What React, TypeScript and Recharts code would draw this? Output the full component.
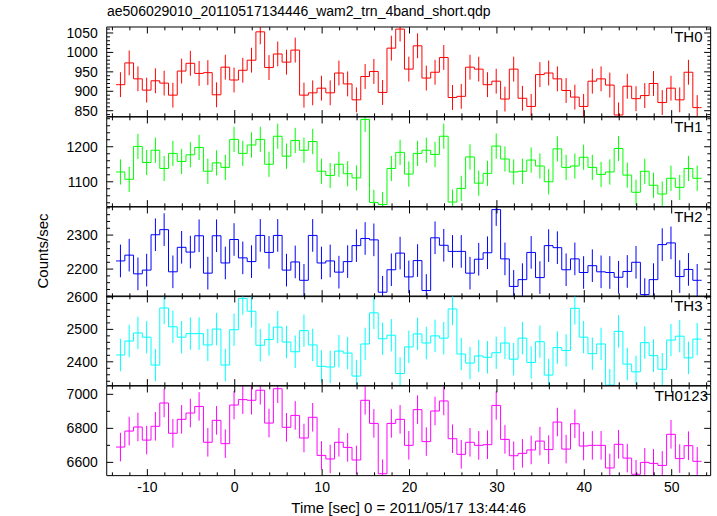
import { ComposedChart, Line, XAxis, YAxis, ErrorBar } from 'recharts'

// light curve: 1 s bins, first bin centre (sec from 2011/05/17 13:44:46)
const T0 = -13.08
const BIN = 1
const TIME_DOMAIN: [number, number] = [-14.65, 54.46]
const TIME_LABELS = [-10, 0, 10, 20, 30, 40, 50]

const th0 = [917, 973, 932, 903, 927, 921, 890, 952, 972, 946, 948, 891, 962, 929, 954, 980, 1053, 961, 996, 975, 1006, 890,
  896, 908, 896, 947, 919, 878, 938, 951, 897, 1011, 1060, 957, 1017, 934, 949, 987, 884, 887, 962, 957, 917, 926,
  880, 957, 882, 861, 943, 947, 932, 902, 885, 861, 926, 932, 916, 839, 913, 881, 889, 920, 871, 908, 878, 949, 858]
const th1 = [1128, 1107, 1201, 1155, 1190, 1138, 1181, 1158, 1177, 1198, 1130, 1154, 1141, 1221, 1181, 1205, 1221, 1150, 1230, 1173, 1218, 1190,
  1215, 1130, 1118, 1150, 1123, 1111, 1278, 1041, 1035, 1138, 1184, 1122, 1181, 1190, 1178, 1230, 1042, 1081, 1171, 1096, 1124, 1202,
  1165, 1128, 1130, 1162, 1145, 1100, 1194, 1141, 1145, 1170, 1141, 1121, 1128, 1195, 1119, 1070, 1130, 1090, 1065, 1110, 1084, 1138, 1110]
const th2 = [2224, 2241, 2186, 2197, 2301, 2316, 2192, 2264, 2250, 2298, 2188, 2298, 2218, 2287, 2233, 2222, 2299, 2249, 2299, 2197, 2221, 2167,
  2299, 2218, 2224, 2191, 2222, 2269, 2290, 2286, 2132, 2198, 2247, 2177,
  2225, 2137, 2292, 2270, 2252, 2252, 2188, 2229, 2248, 2375, 2230, 2149, 2169, 2249, 2175, 2269, 2263, 2198, 2230, 2190, 2210, 2192,
  2190, 2176, 2193, 2220, 2125, 2169, 2272, 2277, 2178, 2199, 2167]
const th3 = [2421, 2464, 2489, 2476, 2390, 2566, 2508, 2476, 2487, 2487, 2452, 2501, 2390, 2499, 2595, 2556, 2451, 2469, 2507, 2461, 2431, 2496,
  2452, 2386, 2384, 2433, 2427, 2356, 2455, 2551, 2471, 2482, 2364, 2446,
  2486, 2458, 2480, 2473, 2563, 2424, 2396, 2418, 2414, 2428, 2458, 2408, 2473, 2398, 2462, 2359, 2444, 2435, 2565, 2476, 2425, 2455,
  2328, 2494, 2393, 2369, 2459, 2419, 2377, 2467, 2479, 2412, 2470]
const th0123 = [6690, 6784, 6808, 6731, 6812, 6949, 6771, 6853, 6890, 6929, 6718, 6847, 6710, 6937, 6969, 6965, 7024, 6831, 7033, 6806, 6876, 6743,
  6865, 6641, 6620, 6718, 6688, 6614, 6965, 6829, 6533, 6829, 6853, 6700,
  6910, 6722, 6902, 6961, 6739, 6647, 6718, 6700, 6704, 6935, 6735, 6639, 6653, 6673, 6725, 6675, 6837, 6678, 6827, 6696, 6700, 6700,
  6567, 6706, 6625, 6530, 6600, 6594, 6582, 6765, 6622, 6698, 6606]

// 1-sigma errors (roughly constant within each band)
const th0Err = 32
const th1Err = 36
const th2Err = 48
const th3Err = 50
const th0123Err = 84

const th0Labels = [850, 900, 950, 1000, 1050]
const th1Labels = [1100, 1200]
const th2Labels = [2200, 2300]
const th3Labels = [2400, 2500, 2600]
const th0123Labels = [6600, 6800, 7000]

const panels = [
  { name: 'TH0', values: th0, err: th0Err, color: '#ff0000', domain: [834.8, 1065.4], labels: th0Labels, minor: 10, nameX: 702.5 },
  { name: 'TH1', values: th1, err: th1Err, color: '#00ff00', domain: [1029, 1285], labels: th1Labels, minor: 20, nameX: 702.5 },
  { name: 'TH2', values: th2, err: th2Err, color: '#0000ff', domain: [2119, 2382.6], labels: th2Labels, minor: 20, nameX: 702.5 },
  { name: 'TH3', values: th3, err: th3Err, color: '#00ffff', domain: [2326.5, 2603], labels: th3Labels, minor: 20, nameX: 702.5 },
  { name: 'TH0123', values: th0123, err: th0123Err, color: '#ff00ff', domain: [6522, 7049], labels: th0123Labels, minor: 100, nameX: 708 },
]

const W = 717
const PLOT_LEFT = 106.7
const PLOT_RIGHT = 710.7
const TOP0 = 27.3
const PANEL_H = 89.64
const PAD = 12
const FONT = '"Liberation Sans", Arial, Helvetica, sans-serif'

// error bars are cut at the panel frame, like the step line
function binRows(values: number[], err: number, domain: [number, number]) {
  const pts = values.map((y, i) => ({
    t: T0 + i * BIN,
    y,
    err: [Math.max(0, Math.min(err, y - domain[0])), Math.max(0, Math.min(err, domain[1] - y))],
  }))
  return [
    { t: T0 - BIN / 2, y: values[0], err: [0, 0] },
    ...pts,
    { t: T0 + (values.length - 0.5) * BIN, y: values[values.length - 1], err: [0, 0] },
  ]
}

function tickList(lo: number, hi: number, step: number) {
  const out: number[] = []
  for (let v = Math.ceil(lo / step) * step; v <= hi; v += step) out.push(Math.round(v * 1000) / 1000)
  return out
}

function makeTick(side: string, majors: number[], showLabel: boolean) {
  return (p: any) => {
    const v = p.payload.value
    const big = majors.includes(v)
    const len = big ? 6.5 : 3.3
    const x = p.x
    const y = p.y
    let line = null
    let label = null
    if (side === 'left') {
      line = <line x1={x} y1={y} x2={x + len} y2={y} />
      if (showLabel && big) label = <text x={x - 9} y={y} dy="0.36em" textAnchor="end">{v}</text>
    } else if (side === 'right') {
      line = <line x1={x} y1={y} x2={x - len} y2={y} />
    } else if (side === 'top') {
      line = <line x1={x} y1={y} x2={x} y2={y + len} />
    } else {
      line = <line x1={x} y1={y} x2={x} y2={y - len} />
      if (showLabel && big) label = <text x={x} y={y + 16.5} textAnchor="middle">{v}</text>
    }
    return (
      <g>
        <g stroke="#000" strokeWidth={1}>{line}</g>
        {label && <g fill="#000" fontSize={14} fontFamily={FONT}>{label}</g>}
      </g>
    )
  }
}

function Panel({ p, index, last }: { p: (typeof panels)[number]; index: number; last: boolean }) {
  const domain = p.domain as [number, number]
  const data = binRows(p.values, p.err, domain)
  const yTicks = tickList(domain[0], domain[1], p.minor)
  const xTicks = tickList(TIME_DOMAIN[0], TIME_DOMAIN[1], 2)
  const bottomPad = last ? 45 : PAD
  const h = PANEL_H + PAD + bottomPad
  const axisLine = { stroke: '#000', strokeWidth: 1 }
  // axes need a non-zero size to be drawn; 1px each, taken out of the margins
  return (
    <div style={{ position: 'absolute', left: 0, top: TOP0 + index * PANEL_H - PAD }}>
      <ComposedChart width={W} height={h} data={data}
        margin={{ top: PAD - 1, bottom: bottomPad - 1, left: PLOT_LEFT - 1, right: W - PLOT_RIGHT - 1 }}>
        <XAxis xAxisId="b" dataKey="t" type="number" domain={TIME_DOMAIN} allowDataOverflow ticks={xTicks} interval={0}
          height={1} tickSize={0} tickMargin={0} tickLine={false} axisLine={axisLine}
          tick={makeTick('bottom', TIME_LABELS, last)} />
        <XAxis xAxisId="t" orientation="top" dataKey="t" type="number" domain={TIME_DOMAIN} allowDataOverflow ticks={xTicks} interval={0}
          height={1} tickSize={0} tickMargin={0} tickLine={false} axisLine={axisLine}
          tick={makeTick('top', TIME_LABELS, false)} />
        <YAxis yAxisId="l" type="number" domain={domain} allowDataOverflow ticks={yTicks} interval={0}
          width={1} tickSize={0} tickMargin={0} tickLine={false} axisLine={axisLine}
          tick={makeTick('left', p.labels, true)} />
        <YAxis yAxisId="r" orientation="right" type="number" domain={domain} allowDataOverflow ticks={yTicks} interval={0}
          width={1} tickSize={0} tickMargin={0} tickLine={false} axisLine={axisLine}
          tick={makeTick('right', p.labels, false)} />
        <Line xAxisId="t" yAxisId="r" dataKey="y" type="step" stroke="none" dot={false} activeDot={false} isAnimationActive={false} />
        <Line xAxisId="b" yAxisId="l" dataKey="y" type="step" stroke={p.color} strokeWidth={1} dot={false} activeDot={false}
          isAnimationActive={false}>
          <ErrorBar dataKey="err" direction="y" width={0} stroke={p.color} strokeWidth={1} />
        </Line>
      </ComposedChart>
      <div style={{ position: 'absolute', top: PAD + 2, right: W - p.nameX, fontSize: 15, fontFamily: FONT, lineHeight: '15px' }}>
        {p.name}
      </div>
    </div>
  )
}

export default function App() {
  return (
    <div style={{ position: 'absolute', left: 0, top: 0, width: W, height: 516, background: '#fff', fontFamily: FONT }}>
      <div style={{ position: 'absolute', left: 107, top: 3, fontSize: 14, lineHeight: '16px' }}>
        ae506029010_20110517134446_wam2_trn_4band_short.qdp
      </div>
      {panels.map((p, i) => (
        <Panel key={p.name} p={p} index={i} last={i === panels.length - 1} />
      ))}
      <div style={{ position: 'absolute', left: 42, top: 251, fontSize: 15, whiteSpace: 'nowrap',
        transform: 'translate(-50%, -50%) rotate(-90deg)' }}>
        Counts/sec
      </div>
      <div style={{ position: 'absolute', left: 408.7, top: 499, fontSize: 15, whiteSpace: 'nowrap', transform: 'translateX(-50%)' }}>
        Time [sec] 0 = 2011/05/17 13:44:46
      </div>
    </div>
  )
}
